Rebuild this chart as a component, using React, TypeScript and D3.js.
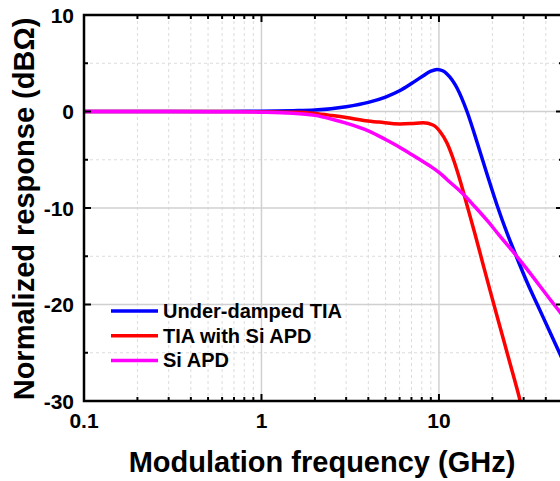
import React from "react";
import * as d3 from "d3";

const W = 560;
const H = 481;

const blueFreq = [0.1, 0.3, 0.6, 1, 1.5, 2, 3, 4, 5, 6, 7, 8, 9, 9.75, 10.5, 11.1, 12.64, 14.39, 16.38, 18.65, 21.23, 24.17, 27.52, 31.33, 36.14, 41.69, 48.08, 50];
const blueVals = [0, 0, 0.01, 0.03, 0.08, 0.15, 0.5, 0.95, 1.5, 2.15, 2.9, 3.6, 4.18, 4.36, 4.22, 3.89, 2.44, 0, -3.16, -6.48, -9.69, -12.59, -15.18, -17.67, -20.16, -22.64, -25.13, -25.8];

const redFreq = [0.1, 0.3, 0.6, 1, 1.63, 2, 2.5, 3, 3.87, 4.6, 6.03, 7, 8.13, 9.25, 10.13, 11.1, 11.99, 13.13, 14.38, 15.96, 17.7, 19.64, 22.07, 24.8, 27.87, 29.74];
const redVals = [0, 0, -0.01, -0.04, -0.08, -0.2, -0.42, -0.62, -0.95, -1.1, -1.29, -1.25, -1.16, -1.4, -2.07, -3.26, -4.82, -7.1, -9.69, -12.69, -15.8, -18.9, -22.3, -25.7, -29.1, -31.1];

const magFreq = [0.1, 0.3, 0.6, 1, 1.5, 2, 2.5, 3, 4, 5, 6, 7, 8, 9, 10, 11.5, 13.5, 16, 19.1, 22, 25.8, 30, 36.4, 42, 47.2, 50];
const magVals = [0, -0.01, -0.03, -0.07, -0.17, -0.4, -0.8, -1.2, -2.0, -2.9, -3.7, -4.45, -5.1, -5.7, -6.3, -7.3, -8.45, -9.9, -11.5, -12.9, -14.4, -15.9, -17.9, -19.4, -20.6, -21.2];

const seriesNames = ["Under-damped TIA", "TIA with Si APD", "Si APD"];
const seriesColors = ["#0000FF", "#FF0000", "#FF00FF"];

const xMajorTicks = [0.1, 1, 10];
const xTickLabels = ["0.1", "1", "10"];
const yMajorTicks = [10, 0, -10, -20, -30];
const yMinorTicks = [5, -5, -15, -25];

const xTitle = "Modulation frequency (GHz)";
const yTitle = "Normalized response (dBΩ)";

const FONT = "Liberation Sans, Arial, sans-serif";

export default function App() {
  const left = 84, right = 563, top = 15, bottom = 401;
  const x = d3.scaleLog().domain([0.1, 50]).range([left, right]);
  const y = d3.scaleLinear().domain([-30, 10]).range([bottom, top]);

  const xMinor: number[] = [];
  [0.1, 1, 10].forEach((dec) => {
    for (let k = 2; k <= 9; k++) {
      const v = dec * k;
      if (v < 50) xMinor.push(v);
    }
  });

  const line = d3
    .line<[number, number]>()
    .x((d) => x(d[0]))
    .y((d) => y(d[1]))
    .curve(d3.curveMonotoneX);

  const series = [
    blueFreq.map((f, i) => [f, blueVals[i]] as [number, number]),
    redFreq.map((f, i) => [f, redVals[i]] as [number, number]),
    magFreq.map((f, i) => [f, magVals[i]] as [number, number]),
  ];

  const majorLen = 7;
  const minorLen = 4;

  return (
    <svg
      width={W}
      height={H}
      style={{ position: "absolute", left: 0, top: 0, background: "#fff" }}
      fontFamily={FONT}
    >
      <defs>
        <clipPath id="plotclip">
          <rect x={left} y={top} width={right - left} height={bottom - top} />
        </clipPath>
      </defs>
      {/* minor grid */}
      {xMinor.map((v) => (
        <line key={"gx" + v} x1={x(v)} x2={x(v)} y1={top} y2={bottom} stroke="#dcdcdc" strokeWidth={1} strokeDasharray="3,3" />
      ))}
      {yMinorTicks.map((v) => (
        <line key={"gy" + v} x1={left} x2={right} y1={y(v)} y2={y(v)} stroke="#dcdcdc" strokeWidth={1} strokeDasharray="3,3" />
      ))}
      {/* major grid */}
      {xMajorTicks.slice(1).map((v) => (
        <line key={"GX" + v} x1={x(v)} x2={x(v)} y1={top} y2={bottom} stroke="#d0d0d0" strokeWidth={1.5} />
      ))}
      {[0, -10, -20].map((v) => (
        <line key={"GY" + v} x1={left} x2={right} y1={y(v)} y2={y(v)} stroke="#d0d0d0" strokeWidth={1.5} />
      ))}

      {/* curves */}
      <g clipPath="url(#plotclip)">
        {series.map((s, i) => (
          <path key={i} d={line(s) || ""} fill="none" stroke={seriesColors[i]} strokeWidth={3.5} strokeLinejoin="round" />
        ))}
      </g>

      {/* ticks */}
      {xMajorTicks.map((v) => (
        <g key={"tx" + v}>
          <line x1={x(v)} x2={x(v)} y1={bottom} y2={bottom - majorLen} stroke="#000" strokeWidth={2} />
          <line x1={x(v)} x2={x(v)} y1={top} y2={top + majorLen} stroke="#000" strokeWidth={2} />
        </g>
      ))}
      {xMinor.map((v) => (
        <g key={"txm" + v}>
          <line x1={x(v)} x2={x(v)} y1={bottom} y2={bottom - minorLen} stroke="#000" strokeWidth={2} />
          <line x1={x(v)} x2={x(v)} y1={top} y2={top + minorLen} stroke="#000" strokeWidth={2} />
        </g>
      ))}
      {yMajorTicks.map((v) => (
        <g key={"ty" + v}>
          <line x1={left} x2={left + majorLen} y1={y(v)} y2={y(v)} stroke="#000" strokeWidth={2} />
          <line x1={right} x2={right - majorLen} y1={y(v)} y2={y(v)} stroke="#000" strokeWidth={2} />
        </g>
      ))}
      {yMinorTicks.map((v) => (
        <g key={"tym" + v}>
          <line x1={left} x2={left + minorLen} y1={y(v)} y2={y(v)} stroke="#000" strokeWidth={2} />
          <line x1={right} x2={right - minorLen} y1={y(v)} y2={y(v)} stroke="#000" strokeWidth={2} />
        </g>
      ))}

      {/* frame */}
      <rect x={left} y={top} width={right - left} height={bottom - top} fill="none" stroke="#000" strokeWidth={2.5} />

      {/* tick labels */}
      {xMajorTicks.map((v, i) => (
        <text key={"lx" + v} x={x(v)} y={428} textAnchor="middle" fontSize={21} fontWeight="bold" fill="#000">
          {xTickLabels[i]}
        </text>
      ))}
      {yMajorTicks.map((v) => (
        <text key={"ly" + v} x={74} y={y(v) + 7.5} textAnchor="end" fontSize={21} fontWeight="bold" fill="#000">
          {String(v)}
        </text>
      ))}

      {/* axis titles */}
      <text x={322} y={472} textAnchor="middle" fontSize={29} fontWeight="bold" fill="#000">
        {xTitle}
      </text>
      <text
        transform={`translate(34,${209}) rotate(-90)`}
        textAnchor="middle"
        fontSize={29}
        fontWeight="bold"
        fill="#000"
      >
        {yTitle}
      </text>

      {/* legend */}
      {seriesNames.map((n, i) => {
        const ly = 311 + i * 24.7;
        return (
          <g key={"lg" + i}>
            <line x1={111} x2={158} y1={ly} y2={ly} stroke={seriesColors[i]} strokeWidth={3.5} />
            <text x={163} y={ly + 7} fontSize={20} fontWeight="bold" fill="#000">
              {n}
            </text>
          </g>
        );
      })}
    </svg>
  );
}
